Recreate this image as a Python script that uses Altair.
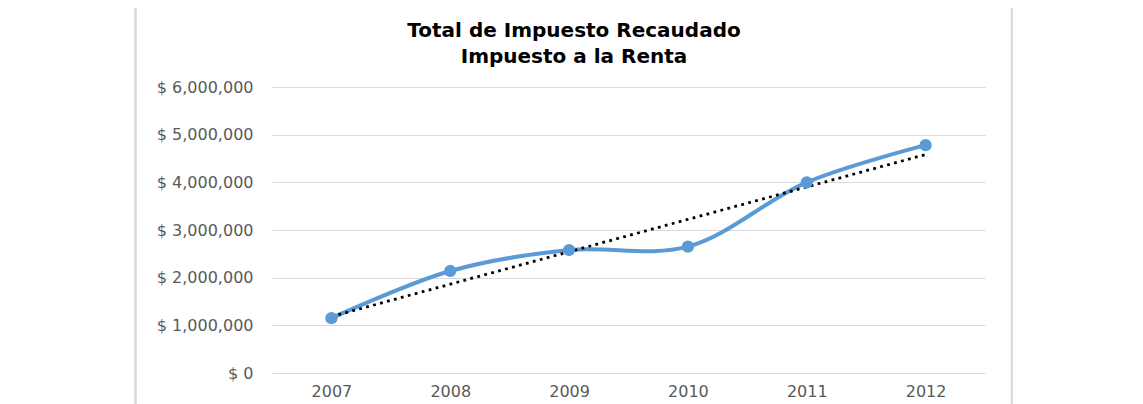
import altair as alt
import pandas as pd

years = [2007, 2008, 2009, 2010, 2011, 2012]
values = [1150000, 2140000, 2580000, 2650000, 4000000, 4780000]
y_ticks = [0, 1000000, 2000000, 3000000, 4000000, 5000000, 6000000]
title_lines = ["Total de Impuesto Recaudado", "Impuesto a la Renta"]

df = pd.DataFrame({"year": years, "value": values})
tdf = pd.DataFrame({"line": title_lines, "row": [0, 1]})

FONT = "DejaVu Sans"
GRAY = "#595959"
BLUE = "#5B9BD5"

x = alt.X(
    "year:Q",
    scale=alt.Scale(domain=[2006.5, 2012.5], nice=False, zero=False),
    axis=alt.Axis(values=years, format="d", grid=False, domain=False, ticks=False,
                  labelFont=FONT, labelFontSize=16, labelColor=GRAY, labelPadding=10,
                  title=None),
)
y = alt.Y(
    "value:Q",
    scale=alt.Scale(domain=[0, 6000000], nice=False),
    axis=alt.Axis(values=y_ticks, labelExpr="'$ ' + format(datum.value, ',')",
                  grid=True, gridColor="#D9D9D9", gridWidth=1.2, domain=False, ticks=False,
                  labelFont=FONT, labelFontSize=16, labelColor=GRAY, labelPadding=19,
                  title=None),
)

base = alt.Chart(df)

line = base.mark_line(color=BLUE, strokeWidth=4, interpolate="catmull-rom").encode(x=x, y=y)
pts = base.mark_point(filled=True, shape="circle", size=150, color=BLUE, opacity=1).encode(x=x, y=y)
trend = base.transform_regression("year", "value").mark_line(
    color="black", strokeWidth=2.8, strokeDash=[2.8, 4.4]
).encode(x=x, y=y)

frame_l = base.mark_rule(color="#D9D9D9", strokeWidth=1.5).encode(
    x=alt.value(-136.5), y=alt.value(-90), y2=alt.value(340))
frame_r = base.mark_rule(color="#D9D9D9", strokeWidth=1.5).encode(
    x=alt.value(739.7), y=alt.value(-90), y2=alt.value(340))

def title_row(i, ypos):
    return alt.Chart(tdf).transform_filter(alt.datum.row == i).mark_text(
        font=FONT, fontSize=20, fontWeight="bold", color="black",
        align="center", baseline="alphabetic"
    ).encode(text="line:N", x=alt.value(302), y=alt.value(ypos))

title1 = title_row(0, -50)
title2 = title_row(1, -24)

chart = alt.layer(frame_l, frame_r, line, trend, pts, title1, title2).properties(
    width=713,
    height=286,
    autosize=alt.AutoSizeParams(type="none"),
    padding={"left": 264, "top": 79, "right": 100, "bottom": 35},
    background="white",
).configure_view(stroke=None)

chart.save("out.html", embed_options={"renderer": "svg", "actions": False})
